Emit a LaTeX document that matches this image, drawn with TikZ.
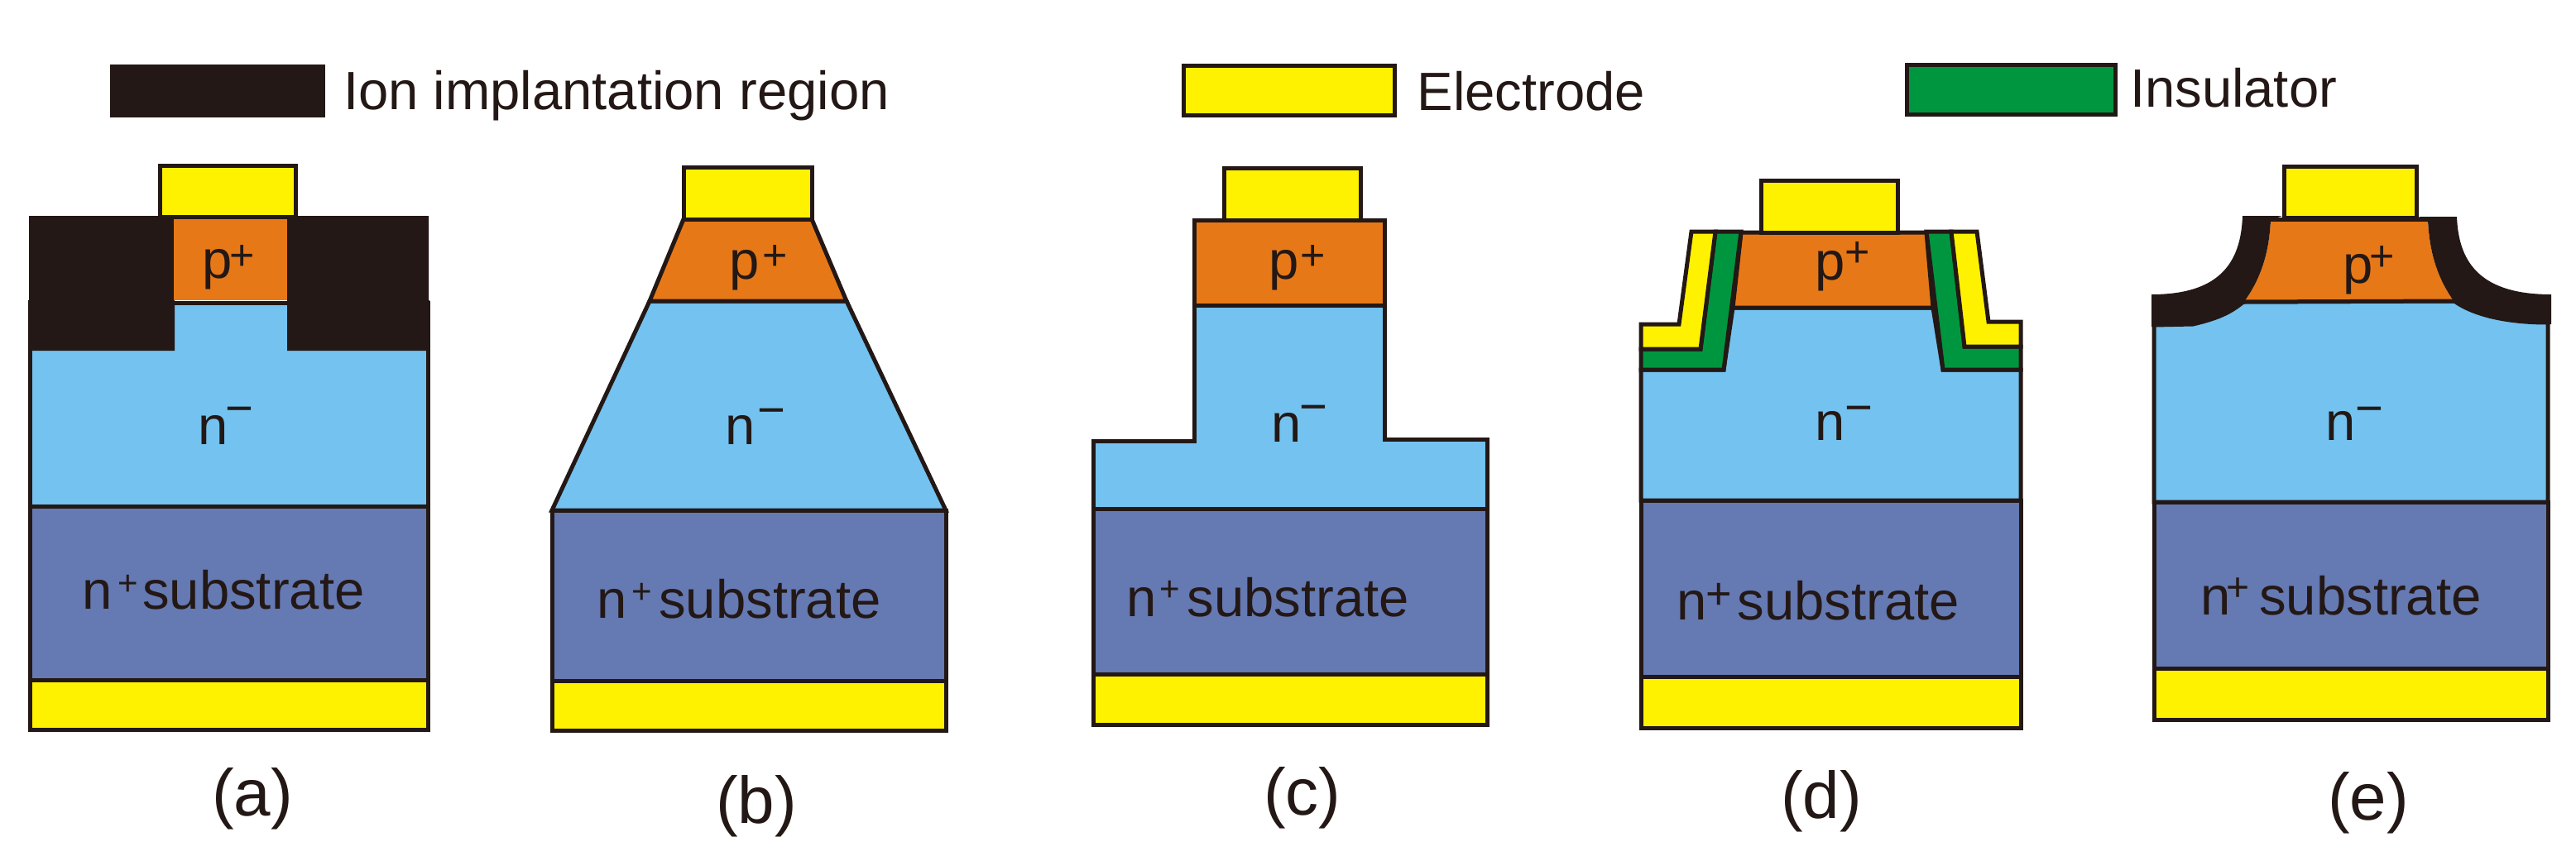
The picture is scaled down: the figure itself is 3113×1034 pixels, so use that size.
\documentclass[tikz,border=0pt]{standalone}
\usepackage{fontspec}
\setmainfont{Liberation Sans}
\usetikzlibrary{positioning}

\definecolor{inkblack}{HTML}{231815}
\definecolor{metal}{HTML}{FFF200}
\definecolor{pdoped}{HTML}{E77817}
\definecolor{ndrift}{HTML}{73C2EF}
\definecolor{nsub}{HTML}{6579B2}
\definecolor{oxide}{HTML}{009640}

\newcommand{\upmark}[4]{\kern#2pt\raisebox{#3pt}{\fontsize{#1}{#1}\selectfont #4}}
\newcommand{\pplus}[2]{p\upmark{52}{#1}{#2}{+}}
\newcommand{\nminus}[2]{n\upmark{58}{#1}{#2}{−}}
\newcommand{\subst}[4]{n\upmark{#1}{#2}{#3}{+}\kern#4pt substrate}

\tikzset{
  layer/.style={draw=inkblack,line width=5pt,line join=miter},
  elec/.style={layer,fill=metal},
  player/.style={layer,fill=pdoped},
  nlayer/.style={layer,fill=ndrift},
  sublayer/.style={layer,fill=nsub},
  ins/.style={layer,fill=oxide},
  implant/.style={fill=inkblack},
  lab/.style={inner sep=0pt,outer sep=0pt,anchor=base west,text=inkblack,font=\fontsize{65.2}{70}\selectfont},
  caplab/.style={lab,font=\fontsize{80}{86}\selectfont},
  legbox/.style={minimum width=#1,minimum height=60pt,inner sep=0pt,outer sep=0pt},
}

\begin{document}
\begin{tikzpicture}[x=1pt,y=-1pt]
   \useasboundingbox (0,0) rectangle (3113,1034);

   % legend
   \node[legbox=260pt,fill=inkblack,minimum height=64pt] (ionbox) at (263,110) {};
   \node[legbox=255pt,elec] (elbox) at (1558,109) {};
   \node[legbox=252pt,ins] (insbox) at (2430,108) {};
   \node[lab] (ionlab) [right=22pt of ionbox.south east,anchor=base west,yshift=10pt] {Ion implantation region};
   \node[lab] (ellab) [right=27pt of elbox.south east,anchor=base west,yshift=6pt] {Electrode};
   \node[lab] (inslab) [right=18pt of insbox.south east,anchor=base west,yshift=9pt] {Insulator};

   % (a)
   \draw[nlayer] (36,366) rectangle (517,612);
   \fill[implant] (35,261) -- (211,261) -- (211,424) -- (34,424) -- (34,363) -- (35,363) -- cycle;
   \fill[implant] (347,261) -- (518,261) -- (518,363) -- (519,363) -- (519,424) -- (347,424) -- cycle;
   \fill[pdoped] (210,265) rectangle (347,363);
   \draw[layer] (210,366) -- (347,366);
   \draw[elec] (193,200) rectangle (357,262);
   \draw[sublayer] (36,612) rectangle (517,822);
   \draw[elec] (36,822) rectangle (517,882);
   \node[lab] (pa) at (244,336) {\pplus{-3}{10}};
   \node[lab] (na) at (239,537) {\nminus{-2.5}{24}};
   \node[lab] (sa) at (99,736) {\subst{42}{7.5}{17}{5}};
   \node[caplab] (capa) at (256,986) {(a)};

   % (b)
   \draw[nlayer] (785,364) -- (1023,364) -- (1143,617) -- (667,617) -- cycle;
   \draw[player] (826,265) -- (981,265) -- (1023,364) -- (785,364) -- cycle;
   \draw[elec] (826,202) rectangle (981,265);
   \draw[sublayer] (667,617) rectangle (1143,823);
   \draw[elec] (667,823) rectangle (1143,883);
   \node[lab] (pb) at (881,337) {\pplus{4}{11}};
   \node[lab] (nb) at (876,537) {\nminus{3.5}{22}};
   \node[lab] (sb) at (721,747) {\subst{42}{6.5}{18}{8}};
   \node[caplab] (capb) at (865,995) {(b)};

   % (c)
   \draw[nlayer] (1443,369) -- (1673,369) -- (1673,531) -- (1797,531) -- (1797,615) -- (1321,615) -- (1321,533) -- (1443,533) -- cycle;
   \draw[player] (1443,266) rectangle (1673,369);
   \draw[elec] (1479,203) rectangle (1644,266);
   \draw[sublayer] (1321,615) rectangle (1797,815);
   \draw[elec] (1321,815) rectangle (1797,876);
   \node[lab] (pc) at (1533,337) {\pplus{2}{11}};
   \node[lab] (nc) at (1536,534) {\nminus{-1.5}{23}};
   \node[lab] (sc) at (1361,745) {\subst{42}{4}{19}{9}};
   \node[caplab] (capc) at (1527,985) {(c)};

   % (d)
   \draw[nlayer] (1983,447) -- (2083,447) -- (2094,372) -- (2336,372) -- (2348,447) -- (2442,447) -- (2442,605) -- (1983,605) -- cycle;
   \draw[player] (2104,281) -- (2328,281) -- (2336,372) -- (2094,372) -- cycle;
   \draw[ins] (2073,280) -- (2104,280) -- (2083,447) -- (1983,447) -- (1983,422) -- (2055,422) -- cycle;
   \draw[elec] (2044,280) -- (2073,280) -- (2055,422) -- (1983,422) -- (1983,392) -- (2029,392) -- cycle;
   \draw[ins] (2328,280) -- (2358,280) -- (2374,419) -- (2442,419) -- (2442,447) -- (2348,447) -- cycle;
   \draw[elec] (2358,280) -- (2389,280) -- (2403,389) -- (2442,389) -- (2442,419) -- (2374,419) -- cycle;
   \draw[elec] (2128,218) rectangle (2293,281);
   \draw[sublayer] (1983,605) rectangle (2442,818);
   \draw[elec] (1983,818) rectangle (2442,880);
   \node[lab] (pd) at (2193,338) {\pplus{0}{16}};
   \node[lab] (nd) at (2193,532) {\nminus{0.5}{20}};
   \node[lab] (sd) at (2026,749) {\subst{54}{-1}{13}{7}};
   \node[caplab] (capd) at (2152,989) {(d)};

   % (e)
   \draw[nlayer] (2603,393) -- (2650,392) .. controls (2680,385) and (2695,378) .. (2711,365) -- (2966,364) .. controls (2990,381) and (3030,390) .. (3079,390) -- (3079,607) -- (2603,607) -- cycle;
   \fill[pdoped] (2744,266) .. controls (2742,310) and (2730,340) .. (2711,365) -- (2966,364) .. controls (2948,340) and (2936,310) .. (2934,266) -- cycle;
   \draw[layer] (2711,365) -- (2966,364);
   \fill[implant] (2710,261) .. controls (2708,320) and (2680,356) .. (2600,356) -- (2600,395) -- (2605,395) .. controls (2650,395) and (2690,382) .. (2711,366) .. controls (2730,340) and (2742,310) .. (2744,266) -- (2758,261) -- cycle;
   \fill[implant] (2969,262) .. controls (2971,320) and (3000,356) .. (3083,356) -- (3083,392) .. controls (3030,392) and (2990,383) .. (2966,365) .. controls (2948,340) and (2936,310) .. (2934,266) -- (2922,262) -- cycle;
   \draw[layer] (2744,265) -- (2934,265);
   \draw[elec] (2760,201) rectangle (2920,263);
   \draw[sublayer] (2603,607) rectangle (3079,808);
   \draw[elec] (2603,808) rectangle (3079,870);
   \node[lab] (pe) at (2831,342) {\pplus{-4}{15}};
   \node[lab] (ne) at (2810,532) {\nminus{0.5}{19}};
   \node[lab] (se) at (2659,743) {\subst{48}{-5}{17}{12}};
   \node[caplab] (cape) at (2813,991) {(e)};
\end{tikzpicture}
\end{document}
